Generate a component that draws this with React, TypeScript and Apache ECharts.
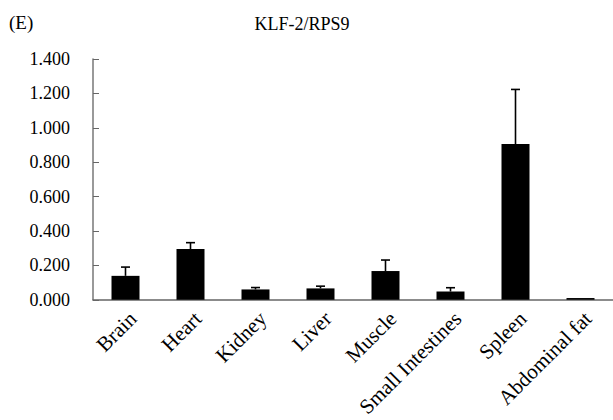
import React, { useEffect, useRef } from "react";
import * as echarts from "echarts";

const categories = [
  "Brain",
  "Heart",
  "Kidney",
  "Liver",
  "Muscle",
  "Small Intestines",
  "Spleen",
  "Abdominal fat",
];
const means = [0.139, 0.295, 0.06, 0.066, 0.167, 0.048, 0.905, 0.01];
const errors = [0.051, 0.037, 0.011, 0.013, 0.064, 0.022, 0.318, 0];
const yTicks = { min: 0, max: 1.4, interval: 0.2 };

const FONT = "'Liberation Serif', 'Times New Roman', serif";

export default function App() {
  const ref = useRef<HTMLDivElement>(null);
  useEffect(() => {
    if (!ref.current) return;
    const chart = echarts.init(ref.current, undefined, { renderer: "svg" });
    const errData = means.map((m, i) => [i, m, m + errors[i]]);
    chart.setOption({
      animation: false,
      backgroundColor: "#ffffff",
      textStyle: { fontFamily: FONT },
      title: [
        {
          text: "KLF-2/RPS9",
          left: 297,
          top: 10,
          textAlign: "center",
          textStyle: { fontFamily: FONT, fontSize: 18, fontWeight: "normal", color: "#000" },
        },
        {
          text: "(E)",
          left: 4,
          top: 8,
          textStyle: { fontFamily: FONT, fontSize: 19, fontWeight: "normal", color: "#000" },
        },
      ],
      grid: { left: 93, top: 59, width: 528, height: 241, containLabel: false },
      xAxis: {
        type: "category",
        data: categories,
        boundaryGap: true,
        axisLine: { lineStyle: { color: "#666", width: 1.5 } },
        axisTick: { inside: true, length: 6, lineStyle: { color: "#666" } },
        axisLabel: {
          rotate: 45,
          interval: 0,
          margin: 8,
          align: "right",
          verticalAlign: "top",
          fontFamily: FONT,
          fontSize: 21,
          color: "#000",
        },
      },
      yAxis: {
        type: "value",
        min: yTicks.min,
        max: yTicks.max,
        interval: yTicks.interval,
        splitLine: { show: false },
        axisLine: { show: true, lineStyle: { color: "#777", width: 1.5 } },
        axisTick: { show: true, inside: true, length: 6, lineStyle: { color: "#666" } },
        axisLabel: {
          margin: 23,
          fontFamily: FONT,
          fontSize: 18,
          color: "#000",
          formatter: (v: number) => v.toFixed(3),
        },
      },
      series: [
        {
          type: "bar",
          data: means,
          barWidth: 28,
          itemStyle: { color: "#000" },
        },
        {
          type: "custom",
          data: errData,
          z: 3,
          renderItem: (params: any, api: any) => {
            const idx = api.value(0);
            const lo = api.coord([idx, api.value(1)]);
            const hi = api.coord([idx, api.value(2)]);
            if (Math.abs(lo[1] - hi[1]) < 0.5) return { type: "group", children: [] };
            const half = 4.5;
            const style = { stroke: "#000", lineWidth: 1.6 };
            return {
              type: "group",
              children: [
                { type: "line", shape: { x1: hi[0], y1: lo[1], x2: hi[0], y2: hi[1] }, style },
                {
                  type: "line",
                  shape: { x1: hi[0] - half, y1: hi[1], x2: hi[0] + half, y2: hi[1] },
                  style,
                },
              ],
            };
          },
        },
      ],
    });
    return () => chart.dispose();
  }, []);
  return (
    <div
      ref={ref}
      style={{ position: "fixed", left: 0, top: 0, width: 613, height: 420 }}
    />
  );
}
